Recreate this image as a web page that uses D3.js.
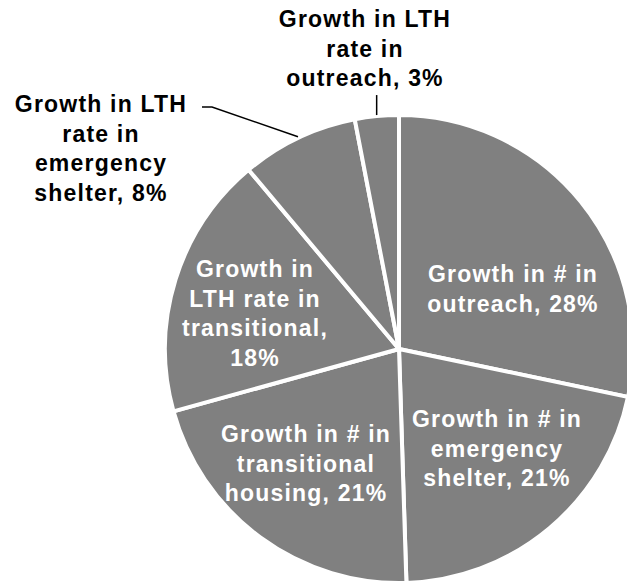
<!DOCTYPE html>
<html>
<head>
<meta charset="utf-8">
<script src="https://cdn.jsdelivr.net/npm/d3@7"></script>
<style>
  html, body { margin: 0; padding: 0; background: #ffffff; }
  svg { display: block; }
  text { font-family: "Liberation Sans", Arial, sans-serif; font-weight: bold; font-size: 23px; letter-spacing: 1.2px; }
</style>
</head>
<body>
<script>
// ---- data ----
const categories = [
  "Growth in # in outreach",
  "Growth in # in emergency shelter",
  "Growth in # in transitional housing",
  "Growth in LTH rate in transitional",
  "Growth in LTH rate in emergency shelter",
  "Growth in LTH rate in outreach"
];
const values = [28, 21, 21, 18, 8, 3];
const labelLines = [
  ["Growth in # in", "outreach, 28%"],
  ["Growth in # in", "emergency", "shelter, 21%"],
  ["Growth in # in", "transitional", "housing, 21%"],
  ["Growth in", "LTH rate in", "transitional,", "18%"],
  ["Growth in LTH", "rate in", "emergency", "shelter, 8%"],
  ["Growth in LTH", "rate in", "outreach, 3%"]
];

// ---- layout (not data) ----
const W = 627, H = 585;
const cx = 399, cy = 349, R = 234;
const lineH = 29.5;
// label anchor: [dx, first-baseline dy] relative to pie centre; inside = white text
const labelLayout = [
  { dx: 114, dy: -67, inside: true },
  { dx: 98, dy: 78, inside: true },
  { dx: -93, dy: 93, inside: true },
  { dx: -144, dy: -72, inside: true },
  { dx: -298, dy: -237, inside: false, leader: "elbow" },
  { dx: -34, dy: -322, inside: false, leader: "vertical" }
];

const svg = d3.select("body").append("svg")
  .attr("width", W).attr("height", H);

const g = svg.append("g").attr("transform", `translate(${cx},${cy})`);

const pie = d3.pie().sort(null).value(d => d);
const arcs = pie(values);
const arc = d3.arc().innerRadius(0).outerRadius(R);

g.selectAll("path.slice")
  .data(arcs)
  .enter().append("path")
  .attr("class", "slice")
  .attr("d", arc)
  .attr("fill", "#808080")
  .attr("stroke", "#ffffff")
  .attr("stroke-width", 4)
  .attr("stroke-linejoin", "round");

// leader lines
const pt = (a, r) => [Math.sin(a) * r, -Math.cos(a) * r];
arcs.forEach((d, i) => {
  const L = labelLayout[i];
  if (!L.leader) return;
  const mid = (d.startAngle + d.endAngle) / 2;
  const p0 = pt(mid, R + 1);
  let pts;
  if (L.leader === "elbow") {
    const y = L.dy - 5;
    pts = [p0, [-187, y], [-197, y]];
  } else {
    pts = [p0, [p0[0], p0[1] - 20]];
  }
  g.append("polyline")
    .attr("points", pts.map(p => p.join(",")).join(" "))
    .attr("fill", "none")
    .attr("stroke", "#000000")
    .attr("stroke-width", 1.5);
});

// labels
arcs.forEach((d, i) => {
  const L = labelLayout[i];
  const t = g.append("text")
    .attr("text-anchor", "middle")
    .attr("fill", L.inside ? "#ffffff" : "#000000");
  labelLines[i].forEach((line, j) => {
    t.append("tspan")
      .attr("x", L.dx)
      .attr("y", L.dy + j * lineH)
      .text(line);
  });
});
</script>
</body>
</html>
